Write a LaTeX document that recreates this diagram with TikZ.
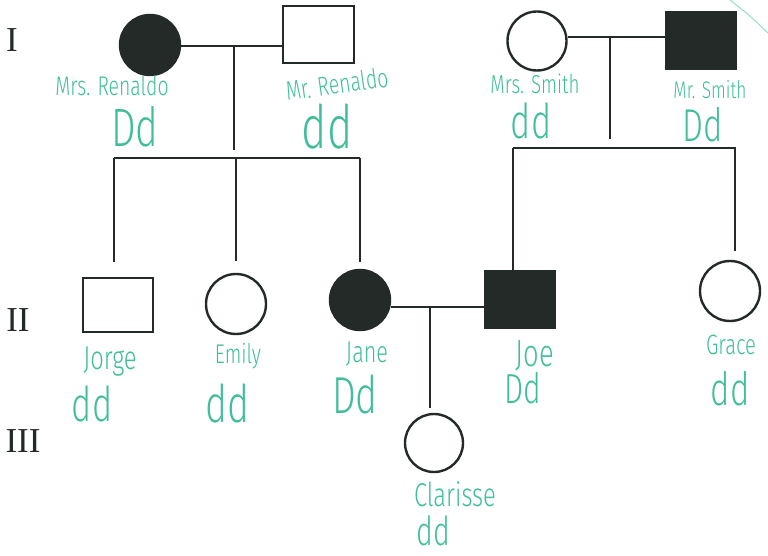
\documentclass[tikz,border=0pt]{standalone}
\usepackage{fontspec}
\newfontfamily\hand{Fira Sans Light}[FakeStretch=0.72]
\newfontfamily\gennum{Liberation Serif}
\definecolor{ink}{RGB}{35,42,40}
\definecolor{pen}{RGB}{64,190,155}
\definecolor{penlight}{RGB}{150,220,205}
\begin{document}
\begin{tikzpicture}[x=1pt,y=-1pt,
  line/.style={draw=ink,line width=2.2pt},
  female/.style={circle,draw=ink,line width=2.4pt,minimum size=60pt,inner sep=0pt},
  male/.style={rectangle,draw=ink,line width=2.4pt,minimum width=70pt,minimum height=56pt,inner sep=0pt},
  affected/.style={fill=ink},
  hand/.style={text=pen,inner sep=0pt,font=\hand\fontsize{#1}{#1}\selectfont},
  gen/.style={text=ink,inner sep=0pt,font=\gennum\fontsize{35}{35}\selectfont}]
\useasboundingbox (0,0) rectangle (768,556);

% generation labels
\node[gen] (gI) at (12,40) {I};
\node[gen] (gII) at (18,320) {II};
\node[gen] (gIII) at (23,441) {III};

% generation I
\node[female,affected] (mrsR) at (150,45) {};
\node[male,minimum width=71pt,minimum height=57pt] (mrR) at (318.5,34.5) {};
\node[female,minimum size=59pt] (mrsS) at (537,41) {};
\node[male,affected] (mrS) at (701,40.5) {};

% generation II
\node[male,minimum height=54pt] (jorge) at (118,305) {};
\node[female] (emily) at (236,304) {};
\node[female,affected] (jane) at (360,300) {};
\node[male,affected,minimum height=57pt] (joe) at (520,299.5) {};
\node[female] (grace) at (730,291) {};

% generation III
\node[female,minimum size=58pt] (clarisse) at (434,443) {};

% mating lines, descent lines and sibships
\coordinate (mR) at (234,46);
\coordinate (dR) at (234,150);
\coordinate (sR) at (236,158);
\coordinate (mS) at (610,37);
\coordinate (dS) at (610,139);
\coordinate (sS) at (620,148);
\coordinate (mJ) at (430,307);
\coordinate (dJ) at (430,408);

\draw[line] (mrsR.east |- mR) -- (mrR.west |- mR);
\draw[line] (mR) -- (dR);
\draw[line] ([xshift=-4pt]jorge.north |- sR) -- (jane.north |- sR);
\draw[line] ([xshift=-4pt]jorge.north |- sR) -- ([xshift=-4pt,yshift=15pt]jorge.north);
\draw[line] (emily.north |- sR) -- ([yshift=12pt]emily.north);
\draw[line] (jane.north |- sR) -- ([yshift=7pt]jane.north);

\draw[line] (mrsS.east |- mS) -- (mrS.west |- mS);
\draw[line] (mS) -- (dS);
\draw[line] ([xshift=-7pt]joe.north |- sS) -- ([xshift=5pt]grace.north |- sS) -- ([xshift=5pt,yshift=9pt]grace.north);
\draw[line] ([xshift=-7pt]joe.north |- sS) -- ([xshift=-7pt]joe.north);

\draw[line] (jane.east |- mJ) -- (joe.west |- mJ);
\draw[line] (mJ) -- (dJ);

% handwritten names and genotypes
\node[hand=27] (nMrsR) at (112,86) {Mrs. Renaldo};
\node[hand=54] (gMrsR) at (135,127) {Dd};
\node[hand=27,rotate=8] (nMrR) at (337,84) {Mr. Renaldo};
\node[hand=60] (gMrR) at (327,127) {dd};
\node[hand=26] (nMrsS) at (535,84) {Mrs. Smith};
\node[hand=48] (gMrsS) at (531,121) {dd};
\node[hand=24] (nMrS) at (710,90) {Mr. Smith};
\node[hand=46] (gMrS) at (703,125) {Dd};

\node[hand=33] (nJorge) at (110,362) {Jorge};
\node[hand=48] (gJorge) at (92,404) {dd};
\node[hand=27] (nEmily) at (238,356) {Emily};
\node[hand=52] (gEmily) at (227,403) {dd};
\node[hand=30] (nJane) at (367,354) {Jane};
\node[hand=52] (gJane) at (355,394) {Dd};
\node[hand=38] (nJoe) at (535,356) {Joe};
\node[hand=42] (gJoe) at (523,388) {Dd};
\node[hand=28] (nGrace) at (731,345) {Grace};
\node[hand=46] (gGrace) at (730,389) {dd};
\node[hand=33] (nClarisse) at (455,494) {Clarisse};
\node[hand=40] (gClarisse) at (433,531) {dd};

% stray pen stroke in the corner
\coordinate (strokeA) at (730,0);
\coordinate (strokeB) at (768,33);
\draw[penlight,line width=1pt] (strokeA) .. controls (748,14) .. (strokeB);
\end{tikzpicture}
\end{document}
